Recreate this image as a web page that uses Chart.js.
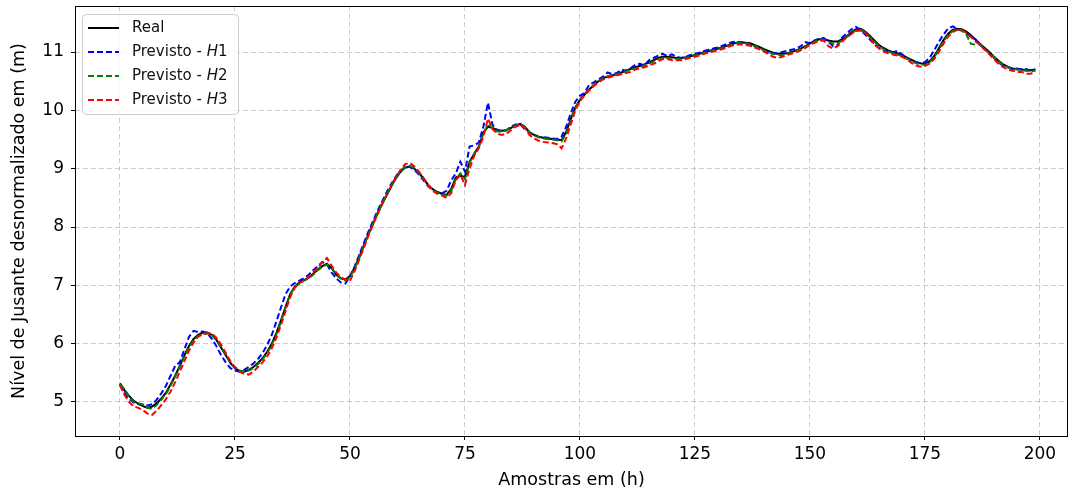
<!DOCTYPE html>
<html>
<head>
<meta charset="utf-8">
<script src="https://cdn.jsdelivr.net/npm/chart.js@4.4.1/dist/chart.umd.min.js"></script>
<style>
    body { margin: 0; background: #fff; }
    #wrap { width: 1070px; height: 494px; }
</style>
</head>
<body>
<div id="wrap"><canvas id="levelChart"></canvas></div>
<script>
// values (water level in m, one per hour)
const real = [
    5.32,5.20,5.10,5.02,4.97,4.93,4.90,4.92,4.98,5.06,
    5.16,5.30,5.45,5.62,5.80,5.96,6.08,6.15,6.19,6.19,
    6.15,6.06,5.93,5.80,5.67,5.58,5.53,5.52,5.55,5.60,
    5.67,5.75,5.86,6.00,6.18,6.40,6.63,6.85,6.98,7.05,
    7.09,7.13,7.20,7.27,7.33,7.37,7.30,7.18,7.12,7.10,
    7.16,7.30,7.48,7.68,7.88,8.06,8.24,8.40,8.55,8.70,
    8.84,8.95,9.02,9.04,9.00,8.93,8.83,8.72,8.65,8.60,
    8.57,8.55,8.65,8.85,8.88,8.86,9.12,9.25,9.38,9.62,
    9.72,9.70,9.66,9.65,9.66,9.70,9.74,9.77,9.72,9.63,
    9.58,9.55,9.53,9.52,9.51,9.50,9.49,9.63,9.85,10.05,
    10.18,10.27,10.36,10.43,10.50,10.55,10.58,10.60,10.62,10.65,
    10.68,10.71,10.74,10.76,10.79,10.82,10.86,10.90,10.92,10.92,
    10.91,10.90,10.90,10.91,10.93,10.95,10.97,11.00,11.02,11.04,
    11.06,11.08,11.11,11.14,11.16,11.17,11.16,11.15,11.12,11.09,
    11.05,11.02,10.99,10.97,10.97,10.98,11.00,11.03,11.06,11.10,
    11.15,11.19,11.22,11.22,11.20,11.18,11.18,11.22,11.27,11.34,
    11.39,11.40,11.35,11.28,11.20,11.12,11.07,11.03,11.00,10.98,
    10.95,10.91,10.87,10.83,10.81,10.80,10.84,10.93,11.06,11.20,
    11.31,11.38,11.40,11.39,11.35,11.29,11.21,11.14,11.07,11.00,
    10.92,10.85,10.79,10.75,10.72,10.71,10.70,10.69,10.69,10.70
];
const predH1 = [
    5.30,5.15,5.05,4.99,4.96,4.95,4.94,4.96,5.04,5.15,
    5.28,5.45,5.62,5.68,5.90,6.12,6.22,6.20,6.21,6.18,
    6.08,5.95,5.80,5.68,5.58,5.54,5.52,5.55,5.60,5.66,
    5.74,5.84,5.98,6.15,6.38,6.62,6.85,6.98,7.04,7.08,
    7.12,7.18,7.26,7.33,7.40,7.36,7.22,7.12,7.05,7.03,
    7.15,7.32,7.52,7.72,7.92,8.10,8.28,8.44,8.60,8.74,
    8.87,8.97,9.03,9.03,8.98,8.90,8.80,8.70,8.63,8.59,
    8.58,8.62,8.80,8.92,9.12,8.95,9.38,9.40,9.45,9.72,
    10.13,9.75,9.67,9.64,9.66,9.72,9.76,9.76,9.68,9.62,
    9.58,9.55,9.54,9.53,9.52,9.51,9.55,9.72,9.95,10.15,
    10.25,10.30,10.44,10.48,10.53,10.58,10.65,10.62,10.64,10.70,
    10.68,10.72,10.78,10.80,10.77,10.86,10.90,10.94,10.97,10.93,
    10.96,10.92,10.90,10.92,10.95,10.97,10.99,11.02,11.04,11.06,
    11.08,11.11,11.14,11.17,11.18,11.17,11.15,11.12,11.08,11.05,
    11.02,10.99,10.97,10.98,11.00,11.02,11.04,11.06,11.10,11.17,
    11.15,11.20,11.23,11.24,11.18,11.10,11.12,11.25,11.32,11.39,
    11.43,11.38,11.30,11.22,11.13,11.07,11.04,11.01,10.99,11.02,
    10.96,10.90,10.85,10.82,10.81,10.83,10.90,11.03,11.17,11.30,
    11.40,11.44,11.40,11.37,11.32,11.26,11.22,11.12,11.05,10.98,
    10.90,10.82,10.77,10.74,10.71,10.72,10.70,10.71,10.68,10.70
];
const predH2 = [
    5.30,5.22,5.08,5.00,4.98,4.96,4.90,4.88,4.95,5.04,
    5.14,5.28,5.44,5.60,5.78,5.94,6.06,6.13,6.17,6.18,
    6.14,6.06,5.94,5.81,5.68,5.59,5.54,5.52,5.54,5.58,
    5.65,5.73,5.84,5.98,6.16,6.38,6.62,6.84,6.97,7.03,
    7.08,7.12,7.18,7.26,7.32,7.36,7.30,7.19,7.12,7.08,
    7.14,7.28,7.47,7.67,7.87,8.05,8.23,8.40,8.56,8.71,
    8.85,8.96,9.03,9.05,9.01,8.93,8.83,8.72,8.64,8.59,
    8.56,8.54,8.62,8.82,8.92,8.82,9.10,9.26,9.38,9.60,
    9.76,9.70,9.64,9.64,9.66,9.70,9.74,9.76,9.71,9.62,
    9.57,9.54,9.52,9.51,9.50,9.49,9.47,9.60,9.82,10.04,
    10.18,10.28,10.36,10.44,10.50,10.55,10.58,10.60,10.62,10.64,
    10.67,10.70,10.72,10.74,10.77,10.80,10.84,10.88,10.90,10.90,
    10.89,10.88,10.88,10.90,10.92,10.94,10.96,10.99,11.01,11.03,
    11.05,11.07,11.10,11.13,11.15,11.16,11.15,11.13,11.10,11.07,
    11.03,11.00,10.97,10.95,10.95,10.97,10.99,11.02,11.05,11.09,
    11.14,11.18,11.21,11.21,11.18,11.14,11.15,11.20,11.26,11.32,
    11.37,11.38,11.33,11.26,11.18,11.10,11.05,11.01,10.98,10.96,
    10.93,10.89,10.85,10.81,10.79,10.78,10.82,10.91,11.04,11.18,
    11.29,11.36,11.39,11.37,11.30,11.14,11.13,11.14,11.05,10.98,
    10.91,10.84,10.78,10.74,10.71,10.70,10.69,10.68,10.67,10.68
];
const predH3 = [
    5.28,5.12,5.00,4.92,4.90,4.86,4.80,4.78,4.85,4.95,
    5.05,5.18,5.34,5.52,5.70,5.88,6.02,6.12,6.16,6.18,
    6.17,6.10,5.98,5.84,5.70,5.60,5.52,5.48,5.47,5.52,
    5.60,5.68,5.78,5.92,6.10,6.32,6.56,6.80,6.96,7.04,
    7.08,7.14,7.22,7.30,7.40,7.47,7.34,7.22,7.14,7.10,
    7.08,7.24,7.44,7.64,7.85,8.04,8.22,8.39,8.55,8.71,
    8.86,8.98,9.08,9.10,9.04,8.95,8.84,8.72,8.62,8.57,
    8.54,8.50,8.58,8.80,8.90,8.72,9.00,9.22,9.35,9.55,
    9.86,9.68,9.60,9.58,9.60,9.66,9.72,9.75,9.70,9.58,
    9.52,9.48,9.46,9.45,9.44,9.42,9.35,9.52,9.76,10.00,
    10.16,10.26,10.34,10.42,10.48,10.53,10.56,10.58,10.60,10.62,
    10.64,10.66,10.70,10.72,10.74,10.77,10.80,10.84,10.88,10.88,
    10.86,10.86,10.86,10.88,10.90,10.92,10.94,10.97,10.99,11.01,
    11.03,11.05,11.08,11.11,11.13,11.13,11.12,11.11,11.08,11.05,
    11.01,10.96,10.92,10.90,10.92,10.95,10.97,11.00,11.03,11.07,
    11.12,11.16,11.19,11.20,11.10,11.06,11.10,11.18,11.25,11.31,
    11.36,11.37,11.34,11.25,11.14,11.06,11.01,10.98,10.96,10.94,
    10.92,10.88,10.82,10.77,10.75,10.76,10.80,10.88,11.00,11.14,
    11.26,11.34,11.38,11.38,11.33,11.26,11.18,11.12,11.04,10.96,
    10.88,10.80,10.74,10.70,10.68,10.66,10.66,10.63,10.63,10.66
];
const xTicks = [0, 25, 50, 75, 100, 125, 150, 175, 200];
const yTicks = [5, 6, 7, 8, 9, 10, 11];

const FONT = "'DejaVu Sans', sans-serif";

function toPoints(arr) {
    return arr.map((v, i) => ({ x: i, y: v }));
}

// box around the plot, like the matplotlib spines
const framePlugin = {
    id: "frame",
    afterDraw(chart) {
        const a = chart.chartArea;
        const ctx = chart.ctx;
        ctx.save();
        ctx.strokeStyle = "#000";
        ctx.lineWidth = 1;
        ctx.strokeRect(Math.round(a.left) + 0.5, Math.round(a.top) + 0.5,
            Math.round(a.right - a.left) - 1, Math.round(a.bottom - a.top));
        ctx.restore();
    }
};

// legend drawn inside the axes, upper left
const innerLegend = {
    id: "innerLegend",
    afterDatasetsDraw(chart) {
        const a = chart.chartArea;
        const ctx = chart.ctx;
        const x0 = a.left + 7, y0 = a.top + 8;
        ctx.save();
        ctx.beginPath();
        ctx.roundRect(x0 + 0.5, y0 + 0.5, 156, 100, 4);
        ctx.fillStyle = "rgba(255,255,255,0.8)";
        ctx.fill();
        ctx.strokeStyle = "#cccccc";
        ctx.lineWidth = 1;
        ctx.stroke();

        ctx.font = "15px " + FONT;
        ctx.textBaseline = "middle";
        chart.data.datasets.forEach((ds, i) => {
            const y = y0 + 14 + i * 24;
            ctx.beginPath();
            ctx.setLineDash(ds.borderDash || []);
            ctx.strokeStyle = ds.borderColor;
            ctx.lineWidth = 2;
            ctx.moveTo(x0 + 6, y);
            ctx.lineTo(x0 + 37, y);
            ctx.stroke();
            ctx.setLineDash([]);
            ctx.fillStyle = "#111";
            const m = ds.label.match(/^(.*- )H(\d)$/);
            let tx = x0 + 50;
            if (m) {
                ctx.font = "15px " + FONT;
                ctx.fillText(m[1], tx, y);
                tx += ctx.measureText(m[1]).width;
                ctx.font = "italic 15px " + FONT;
                ctx.fillText("H", tx, y);
                tx += ctx.measureText("H").width;
                ctx.font = "15px " + FONT;
                ctx.fillText(m[2], tx, y);
            } else {
                ctx.fillText(ds.label, tx, y);
            }
        });
        ctx.restore();
    }
};

const gridOpts = {
    color: "rgba(176,176,176,0.65)",
    lineWidth: 1,
    drawTicks: true,
    tickLength: 4,
    tickColor: "#000"
};

new Chart(document.getElementById("levelChart").getContext("2d"), {
    type: "line",
    data: {
        datasets: [
            { label: "Real", data: toPoints(real), borderColor: "#000000", borderWidth: 2, order: 4 },
            { label: "Previsto - H1", data: toPoints(predH1), borderColor: "#0000ff", borderWidth: 2, borderDash: [6, 3], order: 3 },
            { label: "Previsto - H2", data: toPoints(predH2), borderColor: "#008000", borderWidth: 2, borderDash: [6, 3], order: 2 },
            { label: "Previsto - H3", data: toPoints(predH3), borderColor: "#ff0000", borderWidth: 2, borderDash: [6, 3], order: 1 }
        ]
    },
    options: {
        responsive: true,
        maintainAspectRatio: false,
        animation: false,
        elements: { point: { radius: 0 }, line: { tension: 0 } },
        layout: { padding: { left: 0, right: 2, top: 6, bottom: 0 } },
        plugins: {
            legend: { display: false },
            tooltip: { enabled: false }
        },
        scales: {
            x: {
                type: "linear",
                min: -9.78,
                max: 206.1,
                afterBuildTicks: s => { s.ticks = xTicks.map(v => ({ value: v })); },
                afterFit: s => { s.height = 58; s.paddingLeft = 0; s.paddingRight = 0; },
                grid: gridOpts,
                border: { display: false, dash: [5, 3] },
                ticks: { color: "#000", font: { family: FONT, size: 17 }, padding: 4, maxRotation: 0 },
                title: {
                    display: true,
                    text: "Amostras em (h)",
                    color: "#000",
                    font: { family: FONT, size: 17.5 },
                    padding: { top: 0, bottom: 3 }
                }
            },
            y: {
                min: 4.417,
                max: 11.79,
                afterBuildTicks: s => { s.ticks = yTicks.map(v => ({ value: v })); },
                afterFit: s => { s.width = 75; s.paddingTop = 0; s.paddingBottom = 0; },
                grid: gridOpts,
                border: { display: false, dash: [5, 3] },
                ticks: { color: "#000", font: { family: FONT, size: 17 }, padding: 7 },
                title: {
                    display: true,
                    text: "Nível de Jusante desnormalizado em (m)",
                    color: "#000",
                    font: { family: FONT, size: 17.5 },
                    padding: { top: 9, bottom: 0 }
                }
            }
        }
    },
    plugins: [framePlugin, innerLegend]
});
</script>
</body>
</html>
